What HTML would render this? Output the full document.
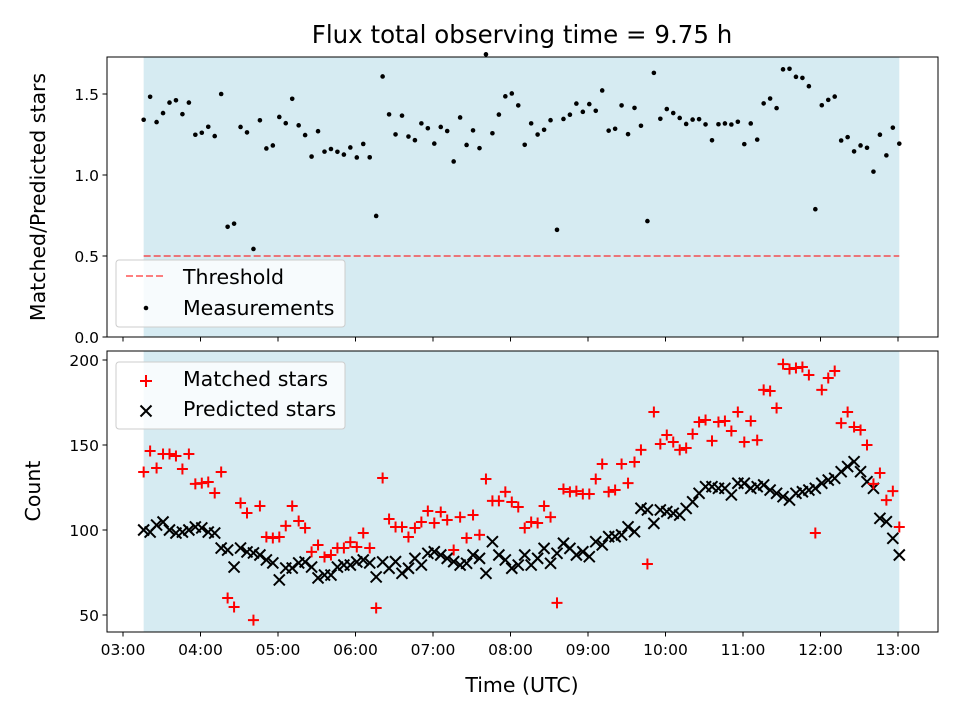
<!DOCTYPE html>
<html><head><meta charset="utf-8"><style>
body{margin:0;background:#fff}
svg{font-family:"DejaVu Sans","Liberation Sans",sans-serif}
</style></head><body>
<svg id="chart" width="960" height="720" xmlns="http://www.w3.org/2000/svg"></svg>
<script>
const startMinutes = 16;
const stepMinutes = 5;
const matched = [134.1,146.5,136.5,144.7,144.7,143.5,135.9,144.7,127.1,127.6,128.2,121.8,134.1,60,54.7,115.9,110,47,114.1,
95.9,95.3,95.9,102.4,114.1,105.3,101.2,87.1,91.2,84.1,85.3,89.4,89.4,92.9,90,98.2,89.4,54.1,130.6,
106.5,101.8,101.8,95.9,101.2,104.7,111.2,104.1,110.6,105.9,88.2,107.6,95.3,108.8,97.1,130,117.1,117.1,122.4,116.5,113.5,101.2,104.7,104.1,114.1,107.6,57.1,124.1,122.4,122.9,121.2,121.2,130,138.8,122.4,123.5,138.8,127.6,140,147.1,
80,169.4,150.6,155.9,151.8,147.1,148.2,156.5,163.5,164.7,152.4,163.5,164.1,158.2,169.4,151.8,164.1,152.9,182.4,181.8,171.8,197.6,194.7,195.3,195.9,191.2,98.2,182.4,189.4,193.5,162.9,169.4,160.6,158.8,150,127.1,133.5,117.6,122.9,101.8];
const predicted = [100,98.8,102.9,104.7,100,98.2,98.8,100,101.8,101.2,98.8,98.2,89.4,88.2,78.2,89.4,87.1,86.5,85.3,82.4,80.6,70.6,77.6,77.6,80.6,81.2,78.2,71.8,73.5,73.5,78.2,79.4,79.4,81.2,82.4,80.6,72.4,81.2,
77.5,81.4,74.5,77.5,83.3,79.4,86.3,87.2,85.3,83.3,81.4,79.4,80.4,85.3,83.3,74.5,93.1,85.3,82.4,77.5,79.4,85.3,79.4,83.3,89.2,80.4,86.3,92.2,89.2,85.3,87.2,84.3,93.1,91.2,96.1,96.1,97.1,101.9,99,112.8,
111.8,103.9,111.8,110.8,109.8,108.8,112.7,116.6,121.6,125.5,125.5,124.5,124.5,120.6,127.5,127.5,124.5,125.5,126.5,123.5,121.6,119.6,117.6,121.6,122.5,123.5,124.5,127.5,129.4,130.4,134.3,137.3,140.2,134.3,128.4,124.5,106.9,104.9,95.1,85.3];
const xTickLabels = ["03:00","04:00","05:00","06:00","07:00","08:00","09:00","10:00","11:00","12:00","13:00"];
const topTicks = [0.0,0.5,1.0,1.5];
const bottomTicks = [50,100,150,200];
const threshold = 0.5;

const NS="http://www.w3.org/2000/svg";
const svg=document.getElementById('chart');
function el(tag,attrs,parent){const e=document.createElementNS(NS,tag);for(const k in attrs)e.setAttribute(k,attrs[k]);(parent||svg).appendChild(e);return e;}
const L=107,R=938,T1=57,B1=337,T2=351,B2=632;
const TICK=15.5, LAB=20.5, TITLE=24.5;
const xS=m=>123+m*77.5/60;
const yTop=v=>337-v*162;
const yBot=v=>615-(v-50)*1.7;
const times=matched.map((_,i)=>startMinutes+i*stepMinutes);
const ratio=matched.map((m,i)=>m/predicted[i]);
const x0=xS(times[0]), x1=xS(times[times.length-1]);

const t=el('text',{x:522,y:43,'text-anchor':'middle','font-size':TITLE});
t.textContent="Flux total observing time = 9.75 h";


function panel(top,bot,name){
  const g=el('g',{});
  
  const s=el('rect',{x:x0,y:top,width:x1-x0,height:bot-top,fill:'#add8e6','fill-opacity':0.5},g);
  
  return g;
}
const gTop=panel(T1,B1,'ratio-panel');
const gBot=panel(T2,B2,'count-panel');

const th=el('line',{x1:x0,x2:x1,y1:yTop(threshold),y2:yTop(threshold),stroke:'#ff0000','stroke-opacity':0.5,'stroke-width':2,'stroke-dasharray':'7,3'},gTop);

ratio.forEach((r,i)=>{const c=el('circle',{cx:xS(times[i]),cy:yTop(r),r:2.3,fill:'#000'},gTop);
});
predicted.forEach((v,i)=>{const x=xS(times[i]),y=yBot(v),d=5.5;
const p=el('path',{d:`M${x-d},${y-d}L${x+d},${y+d}M${x-d},${y+d}L${x+d},${y-d}`,stroke:'#000','stroke-width':2},gBot);
});
matched.forEach((v,i)=>{const x=xS(times[i]),y=yBot(v),d=5.5;
const p=el('path',{d:`M${x-d},${y}L${x+d},${y}M${x},${y-d}L${x},${y+d}`,stroke:'#ff0000','stroke-width':2},gBot);
});

[[T1,B1,'ratio-axes-frame'],[T2,B2,'count-axes-frame']].forEach(a=>{const r=el('rect',{x:L,y:a[0],width:R-L,height:a[1]-a[0],fill:'none',stroke:'#000','stroke-width':1});
});

xTickLabels.forEach((lab,i)=>{const x=xS(i*60);
el('line',{x1:x,x2:x,y1:B1,y2:B1+4.5,stroke:'#000'});
el('line',{x1:x,x2:x,y1:B2,y2:B2+4.5,stroke:'#000'});
const tx=el('text',{x:x,y:B2+23,'text-anchor':'middle','font-size':TICK});tx.textContent=lab;
});
topTicks.forEach(v=>{const y=yTop(v);el('line',{x1:L-4.5,x2:L,y1:y,y2:y,stroke:'#000'});
const tx=el('text',{x:L-8,y:y+6,'text-anchor':'end','font-size':TICK});tx.textContent=v.toFixed(1);
});
bottomTicks.forEach(v=>{const y=yBot(v);el('line',{x1:L-4.5,x2:L,y1:y,y2:y,stroke:'#000'});
const tx=el('text',{x:L-8,y:y+6,'text-anchor':'end','font-size':TICK});tx.textContent=v;
});

let a=el('text',{x:522,y:692,'text-anchor':'middle','font-size':LAB});a.textContent="Time (UTC)";

a=el('text',{x:0,y:0,'text-anchor':'middle','font-size':LAB,transform:'translate(45,197) rotate(-90)'});a.textContent="Matched/Predicted stars";

a=el('text',{x:0,y:0,'text-anchor':'middle','font-size':LAB,transform:'translate(40,491) rotate(-90)'});a.textContent="Count";


function legend(y,name){const g=el('g',{});
el('rect',{x:116,y:y,width:229,height:67,rx:3,fill:'#fff','fill-opacity':0.8,stroke:'#ccc'},g);return g;}
let lg=legend(260,'ratio-legend');
el('line',{x1:126,x2:166,y1:276,y2:276,stroke:'#ff0000','stroke-opacity':0.5,'stroke-width':2,'stroke-dasharray':'7,3'},lg);
el('circle',{cx:146,cy:308,r:2.3,fill:'#000'},lg);
let e=el('text',{x:183,y:284,'font-size':LAB},lg);e.textContent="Threshold";
e=el('text',{x:183,y:315,'font-size':LAB},lg);e.textContent="Measurements";
lg=legend(362,'count-legend');
el('path',{d:'M140,381L152,381M146,375L146,387',stroke:'#ff0000','stroke-width':2},lg);
el('path',{d:'M140.5,405.5L151.5,416.5M140.5,416.5L151.5,405.5',stroke:'#000','stroke-width':2},lg);
e=el('text',{x:183,y:386,'font-size':LAB},lg);e.textContent="Matched stars";
e=el('text',{x:183,y:416,'font-size':LAB},lg);e.textContent="Predicted stars";
</script>
</body></html>
